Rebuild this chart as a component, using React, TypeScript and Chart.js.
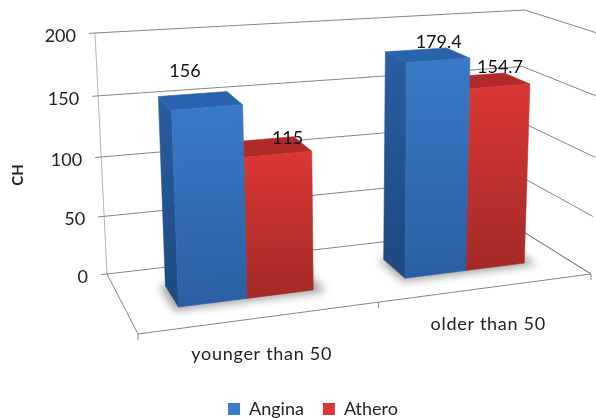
import React, { useEffect, useRef } from "react";
import { Chart, registerables } from "chart.js";

Chart.register(...registerables);

const categories = ["younger than 50", "older than 50"];
const anginaValues = [156, 179.4];
const atheroValues = [115, 154.7];
const axisMax = 200;
const axisStep = 50;
const axisTitle = "CH";

// view frame of the 3D box: floor and top corners (back-left, back-right, front-left, front-right)
const FLOOR = [[107, 274], [515, 226.5], [138, 334], [591, 274]];
const TOP = [[95, 33], [525, 10], [127, 66], [600, 34]];
const KU = 0.123;
const KH = 0.058;
const DEPTH = [0.3, 0.66];
const FONT = "Lato, 'Noto Sans', sans-serif";
const LABEL_NUDGE = [[[-16, -30], [10, -14]], [[17, -9], [11, -14]]];
const FACES = [
  { front: ["#3A79C6", "#2B5FA3"], side: ["#2A5EA2", "#1F4A82"], top: "#2A63AB" },
  { front: ["#D93733", "#A32A28"], side: ["#A82A27", "#8A2422"], top: "#B02B27" },
];

const lerp = (a: number[], b: number[], t: number) => [a[0] + (b[0] - a[0]) * t, a[1] + (b[1] - a[1]) * t];
const bilerp = (q: number[][], u: number, v: number) => lerp(lerp(q[0], q[1], u), lerp(q[2], q[3], u), v);
const project = (u: number, v: number, h: number) => {
  const uw = u + KU * u * (1 - u);
  const hw = h - KH * h * (1 - h);
  return lerp(bilerp(FLOOR, uw, v), bilerp(TOP, uw, v), hw);
};

function poly(ctx: CanvasRenderingContext2D, pts: number[][], fill: any, seal = true) {
  ctx.beginPath();
  pts.forEach((p, i) => (i ? ctx.lineTo(p[0], p[1]) : ctx.moveTo(p[0], p[1])));
  ctx.closePath();
  ctx.fillStyle = fill;
  ctx.fill();
  if (seal) {
    ctx.strokeStyle = fill;
    ctx.lineWidth = 0.6;
    ctx.stroke();
  }
}
function line(ctx: CanvasRenderingContext2D, a: number[], b: number[], color: string) {
  ctx.beginPath();
  ctx.moveTo(a[0], a[1]);
  ctx.lineTo(b[0], b[1]);
  ctx.strokeStyle = color;
  ctx.lineWidth = 1;
  ctx.stroke();
}
function grad(ctx: CanvasRenderingContext2D, a: number[], b: number[], cols: string[]) {
  const g = ctx.createLinearGradient(a[0], a[1], b[0], b[1]);
  g.addColorStop(0, cols[0]);
  g.addColorStop(1, cols[1]);
  return g;
}

const box3d = {
  id: "box3d",
  beforeDatasetsDraw(chart: any) {
    const { ctx, chartArea: area, scales } = chart;
    const y = scales.y;
    const x = scales.x;
    const U = (px: number) => (px - area.left) / area.width;
    const H = (px: number) => (area.bottom - px) / area.height;
    const gridCol = "#858585";

    ctx.save();
    // walls and grid, from the value scale's ticks
    line(ctx, project(0, 0, 0), project(0, 0, 1), "#b5b5b5");
    line(ctx, project(0, 0, 0), project(0, 1, 0), gridCol);
    line(ctx, project(1, 0, 0), project(1, 1, 0), gridCol);
    line(ctx, project(0, 1, 0), project(1, 1, 0), gridCol);
    y.ticks.forEach((t: any) => {
      const h = H(y.getPixelForValue(t.value));
      const a = project(0, 0, h);
      const b = project(1, 0, h);
      const c = project(1, 1, h);
      line(ctx, a, b, gridCol);
      line(ctx, b, c, gridCol);
      line(ctx, a, [a[0] - 6, a[1] + 0.5], gridCol);
      ctx.fillStyle = "#222";
      ctx.font = `18px ${FONT}`;
      ctx.textAlign = "right";
      ctx.textBaseline = "middle";
      ctx.fillText(String(t.value), a[0] - 19, a[1] + 3);
    });
    // category ticks
    [0, 0.5, 1].forEach((u) => {
      const p = project(u, 1, 0);
      line(ctx, p, [p[0], p[1] + 6], gridCol);
    });

    const metas = [chart.getDatasetMeta(0), chart.getDatasetMeta(1)];
    categories.forEach((_, i) => {
      // floor shadow
      const b0 = metas[0].data[i];
      const b1 = metas[1].data[i];
      const u0 = U(b0.x - b0.width / 2) - 0.012;
      const u1 = U(b1.x + b1.width / 2) + 0.022;
      ctx.save();
      ctx.filter = "blur(4px)";
      poly(ctx, [project(u0, DEPTH[0] - 0.02, 0), project(u1, DEPTH[0] - 0.02, 0), project(u1, DEPTH[1] + 0.05, 0), project(u0, DEPTH[1] + 0.05, 0)], "rgba(70,70,70,0.5)", false);
      ctx.restore();

      // bars, rear series first so that the taller front series overlaps it
      [1, 0].forEach((d) => {
        const bar = metas[d].data[i];
        const c = FACES[d];
        const l = U(bar.x - bar.width / 2);
        const r = U(bar.x + bar.width / 2);
        const h = H(bar.y);
        const [vb, vf] = DEPTH;
        const flb = project(l, vf, 0), frb = project(r, vf, 0), blb = project(l, vb, 0);
        const flt = project(l, vf, h), frt = project(r, vf, h), blt = project(l, vb, h), brt = project(r, vb, h);
        poly(ctx, [blt, flt, flb, blb], grad(ctx, blt, blb, c.side));
        poly(ctx, [blt, brt, frt, flt], c.top);
        poly(ctx, [flt, frt, frb, flb], grad(ctx, flt, flb, c.front));
      });
    });

    // value labels
    ctx.fillStyle = "#111";
    ctx.font = `18px ${FONT}`;
    ctx.textAlign = "center";
    ctx.textBaseline = "middle";
    [0, 1].forEach((d) => {
      chart.data.datasets[d].data.forEach((val: number, i: number) => {
        const bar = metas[d].data[i];
        const p = project(U(bar.x), 0.5, H(bar.y));
        const n = LABEL_NUDGE[d][i];
        ctx.fillText(String(val), p[0] + n[0], p[1] + n[1]);
      });
    });

    // category labels
    ctx.fillStyle = "#222";
    (ctx as any).letterSpacing = "0.7px";
    x.getLabels().forEach((lab: string, i: number) => {
      const p = project(U(x.getPixelForTick(i)), 1, 0);
      ctx.fillText(lab, p[0], p[1] + 37);
    });
    (ctx as any).letterSpacing = "0px";

    // value axis title
    ctx.save();
    ctx.translate(18, 175);
    ctx.rotate(-Math.PI / 2);
    ctx.font = `bold 15px ${FONT}`;
    ctx.fillStyle = "#222";
    ctx.fillText(axisTitle, 0, 0);
    ctx.restore();
    ctx.restore();
    return false;
  },
};

export default function App() {
  const ref = useRef<HTMLCanvasElement>(null);
  useEffect(() => {
    document.body.style.margin = "0";
    const chart = new Chart(ref.current as HTMLCanvasElement, {
      type: "bar",
      data: {
        labels: categories,
        datasets: [
          { label: "Angina", data: anginaValues, backgroundColor: "#3B7BC8", categoryPercentage: 0.58, barPercentage: 1 },
          { label: "Athero", data: atheroValues, backgroundColor: "#D63A36", categoryPercentage: 0.58, barPercentage: 1 },
        ],
      },
      options: {
        responsive: false,
        animation: false,
        layout: { padding: { left: 30, right: 0, top: 0, bottom: -10 } },
        scales: {
          x: { display: false },
          y: { display: false, min: 0, max: axisMax, ticks: { stepSize: axisStep } },
        },
        plugins: {
          tooltip: { enabled: false },
          legend: {
            position: "bottom",
            fullSize: false,
            labels: { boxWidth: 12, boxHeight: 12, padding: 19, color: "#222", font: { family: "Lato, 'Noto Sans', sans-serif", size: 18 } },
          },
        },
      },
      plugins: [box3d],
    } as any);
    return () => chart.destroy();
  }, []);
  return <canvas ref={ref} width={596} height={418} style={{ display: "block", filter: "blur(0.5px)" }} />;
}
